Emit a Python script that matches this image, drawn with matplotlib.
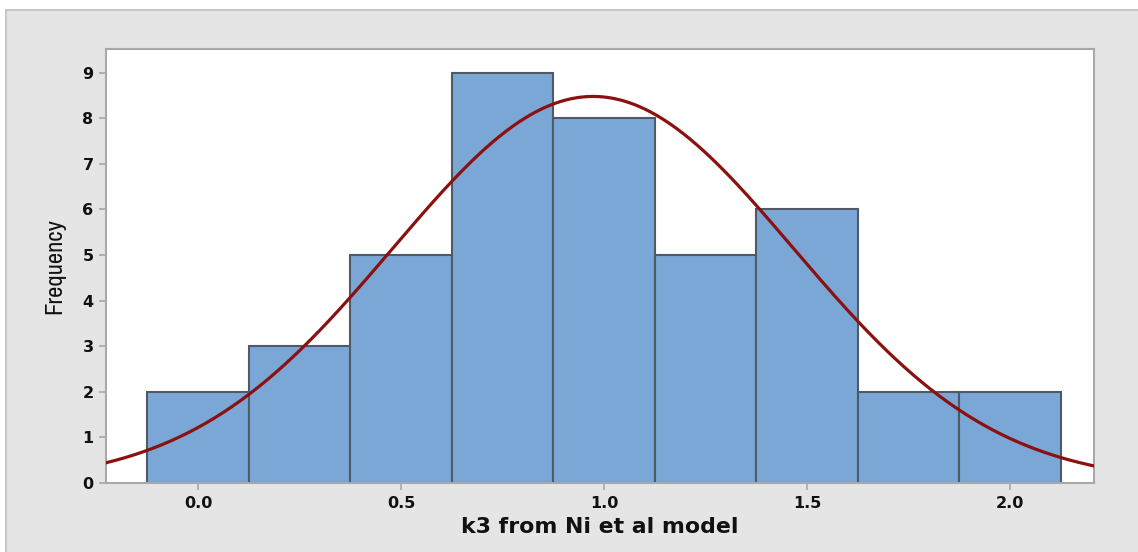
import numpy as np
import matplotlib
matplotlib.use("Agg")
import matplotlib.pyplot as plt
from matplotlib.patches import Rectangle
from matplotlib import font_manager

# Data
bin_centers = [0.0, 0.25, 0.5, 0.75, 1.0, 1.25, 1.5, 1.75, 2.0]
counts = [2, 3, 5, 9, 8, 5, 6, 2, 2]
bin_width = 0.25
fit_mean = 0.973
fit_std = 0.494
x_ticks = [0.0, 0.5, 1.0, 1.5, 2.0]
x_tick_labels = ["0.0", "0.5", "1.0", "1.5", "2.0"]
y_ticks = list(range(0, 10))
x_label = "k3 from Ni et al model"
y_label = "Frequency"

names = {f.name for f in font_manager.fontManager.ttflist}
if "Archivo Narrow" in names:
    ylab_font, ylab_size, ylab_stretch = "Archivo Narrow", 17.8, "normal"
else:
    ylab_font, ylab_size, ylab_stretch = "DejaVu Sans", 14.5, "condensed"

W, H = 1138, 552
fig = plt.figure(figsize=(W / 100, H / 100), dpi=100)
fig.patch.set_facecolor("white")

# outer gray panel with border (background axes)
bg = fig.add_axes([0, 0, 1, 1], zorder=-10)
bg.set_xlim(0, W)
bg.set_ylim(H, 0)
bg.axis("off")
bg.add_patch(Rectangle((6, 10), W + 20, H + 20, facecolor="#e5e5e5", edgecolor="#c8c8c8",
                       linewidth=1.5))

left, right, top, bottom = 106, 1094, 49, 483
ax = fig.add_axes([left / W, 1 - bottom / H, (right - left) / W, (bottom - top) / H], zorder=1)
ax.set_facecolor("white")

ax.bar(bin_centers, counts, width=bin_width, color="#7ba7d7", edgecolor="#4f5a66",
       linewidth=1.5, zorder=2)

xs = np.linspace(-0.3, 2.3, 600)
n = sum(counts)
ys = n * bin_width / (fit_std * np.sqrt(2 * np.pi)) * np.exp(-0.5 * ((xs - fit_mean) / fit_std) ** 2)
ax.plot(xs, ys, color="#8b1111", linewidth=2.3, zorder=3)

ax.set_xlim(-0.227, 2.207)
ax.set_ylim(0, 9.52)
ax.set_xticks(x_ticks)
ax.set_xticklabels(x_tick_labels)
ax.set_yticks(y_ticks)

for s in ax.spines.values():
    s.set_color("#a8a8a8")
    s.set_linewidth(1.5)

ax.tick_params(axis="both", colors="#a8a8a8", length=5, width=1.2, labelcolor="#111111",
               labelsize=11.5, pad=4)
for lab in ax.get_xticklabels() + ax.get_yticklabels():
    lab.set_fontfamily("DejaVu Sans")
    lab.set_fontweight("bold")

ax.set_xlabel(x_label, fontsize=15.8, fontfamily="DejaVu Sans", fontweight="bold",
              color="#111111", labelpad=5)
ax.set_ylabel(y_label, fontsize=ylab_size, fontfamily=[ylab_font, "DejaVu Sans"],
              fontstretch=ylab_stretch, color="#111111", labelpad=12)

fig.savefig("out.png", dpi=100, facecolor=fig.get_facecolor())
